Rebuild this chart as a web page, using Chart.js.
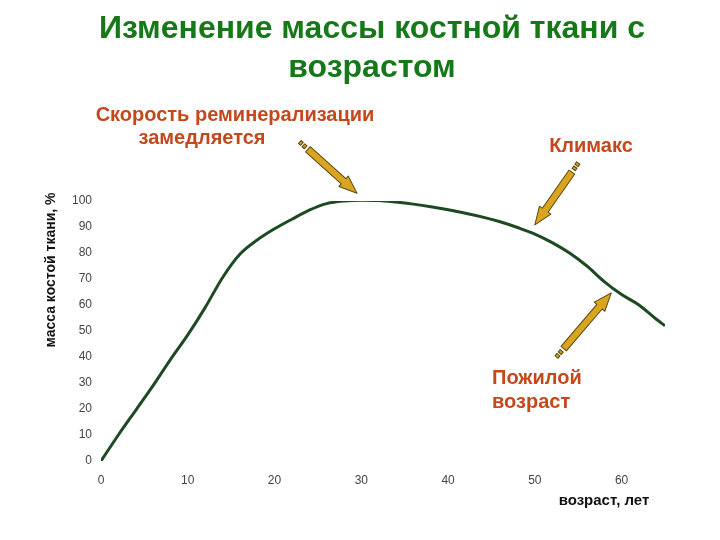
<!DOCTYPE html>
<html>
<head>
<meta charset="utf-8">
<script src="https://cdn.jsdelivr.net/npm/chart.js@4"></script>
<style>
  body { margin: 0; background: #fff; }
  #wrap { width: 720px; height: 540px; }
</style>
</head>
<body>
<div id="wrap"><canvas id="bone-chart" width="720" height="540"></canvas></div>
<script>
// данные
const ages = [0, 2, 4, 6, 8, 10, 12, 14, 16, 18, 20, 22, 24, 26, 28, 30, 32, 34, 36, 38, 40, 42, 44, 46, 48, 50, 52, 54, 56, 58, 60, 62, 64, 65];
const boneMass = [0, 10, 19.5, 29, 39, 48.5, 59, 70.5, 79.5, 85, 89.3, 93, 96.5, 99, 100, 100.3, 100.2, 99.6, 98.8, 97.8, 96.6, 95.3, 93.8, 92, 89.8, 87.3, 84, 80, 75, 69, 64, 60, 54.5, 52];
const xTicks = [0, 10, 20, 30, 40, 50, 60];
const yTicks = [0, 10, 20, 30, 40, 50, 60, 70, 80, 90, 100];

const titleLines = ['Изменение массы костной ткани с', 'возрастом'];
const yTitle = 'масса костой ткани, %';
const xTitle = 'возраст, лет';

// стрелки: [возраст, масса] хвоста и острия
const arrows = [
    { from: [22.9, 122.7], to: [29.5, 103] },
    { from: [55.0, 114.6], to: [50.0, 90.8] },
    { from: [52.5, 40.0], to: [58.8, 64.6] }
];

const FONT = 'Arial, "Liberation Sans", sans-serif';

function drawArrow(ctx, x1, y1, x2, y2) {
    const ang = Math.atan2(y2 - y1, x2 - x1);
    const len = Math.hypot(x2 - x1, y2 - y1);
    ctx.save();
    ctx.translate(x1, y1);
    ctx.rotate(ang);
    ctx.lineJoin = 'round';
    ctx.strokeStyle = '#5a4a10';
    ctx.lineWidth = 1;
    // хвостик из точек
    ctx.fillStyle = '#c8a028';
    [[0, 3], [5, 3]].forEach(function (d) {
        ctx.fillRect(d[0], -2, d[1], 4);
        ctx.strokeRect(d[0], -2, d[1], 4);
    });
    // древко
    const headLen = 18;
    ctx.fillStyle = '#d9a520';
    ctx.beginPath();
    ctx.moveTo(11, -3.5);
    ctx.lineTo(len - headLen, -3.5);
    ctx.lineTo(len - headLen, -7);
    ctx.lineTo(len, 0);
    ctx.lineTo(len - headLen, 7);
    ctx.lineTo(len - headLen, 3.5);
    ctx.lineTo(11, 3.5);
    ctx.closePath();
    ctx.fill();
    ctx.stroke();
    ctx.restore();
}

const decorPlugin = {
    id: 'decor',
    afterDraw(chart) {
        const ctx = chart.ctx;
        const xs = chart.scales.x, ys = chart.scales.y;
        ctx.save();
        // заголовок
        ctx.fillStyle = '#17781a';
        ctx.font = 'bold 32px ' + FONT;
        ctx.textAlign = 'center';
        ctx.textBaseline = 'middle';
        ctx.fillText(titleLines[0], 372, 29);
        ctx.fillText(titleLines[1], 372, 68);

        // подписи осей
        ctx.fillStyle = '#111';
        ctx.font = 'bold 15px ' + FONT;
        ctx.fillText(xTitle, 604, 501);
        ctx.font = 'bold 14px ' + FONT;
        ctx.save();
        ctx.translate(51, 270);
        ctx.rotate(-Math.PI / 2);
        ctx.fillText(yTitle, 0, 0);
        ctx.restore();

        // стрелки
        arrows.forEach(function (a) {
            drawArrow(ctx,
                xs.getPixelForValue(a.from[0]), ys.getPixelForValue(a.from[1]),
                xs.getPixelForValue(a.to[0]), ys.getPixelForValue(a.to[1]));
        });

        // пояснения
        ctx.fillStyle = '#c4481c';
        ctx.font = 'bold 20px ' + FONT;
        ctx.textAlign = 'center';
        ctx.fillText('Скорость реминерализации', 235, 115);
        ctx.fillText('замедляется', 202, 138);
        ctx.fillText('Климакс', 591, 146);
        ctx.textAlign = 'left';
        ctx.fillText('Пожилой', 492, 378);
        ctx.fillText('возраст', 492, 402);
        ctx.restore();
    }
};

const ctx = document.getElementById('bone-chart').getContext('2d');
const chart = new Chart(ctx, {
    type: 'line',
    data: {
        datasets: [{
            data: ages.map(function (a, i) { return { x: a, y: boneMass[i] }; }),
            borderColor: '#1d4a22',
            borderWidth: 3,
            pointRadius: 0,
            cubicInterpolationMode: 'monotone',
            fill: false
        }]
    },
    options: {
        responsive: false,
        animation: false,
        layout: { padding: { top: 201, left: 60, right: 55, bottom: 0 } },
        plugins: {
            legend: { display: false },
            tooltip: { enabled: false }
        },
        scales: {
            x: {
                type: 'linear',
                min: 0,
                max: 65,
                grid: { display: false },
                border: { display: false },
                afterFit: function (s) { s.height = 79; },
                afterBuildTicks: function (s) { s.ticks = xTicks.map(function (v) { return { value: v }; }); },
                ticks: { padding: 4, color: '#444', font: { family: FONT, size: 12 } }
            },
            y: {
                min: 0,
                max: 100,
                grid: { display: false },
                border: { display: false },
                afterFit: function (s) { s.width = 41; },
                afterBuildTicks: function (s) { s.ticks = yTicks.map(function (v) { return { value: v }; }); },
                ticks: { padding: 1, color: '#444', font: { family: FONT, size: 12 } }
            }
        }
    },
    plugins: [decorPlugin]
});
</script>
</body>
</html>
